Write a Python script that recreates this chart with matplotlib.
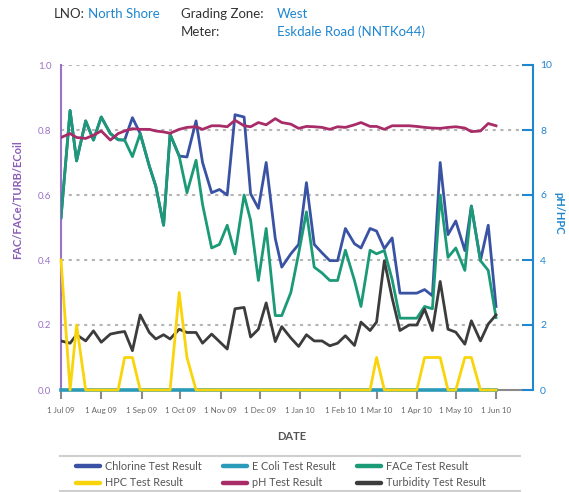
import pandas as pd
import matplotlib
matplotlib.use('Agg')
import matplotlib.pyplot as plt
import matplotlib.dates as mdates
from matplotlib.lines import Line2D

plt.rcParams['font.family'] = ['Lato', 'DejaVu Sans']

# sample dates (roughly weekly)
dates = ['2009-07-01', '2009-07-08', '2009-07-13', '2009-07-20', '2009-07-26', '2009-08-01',
         '2009-08-08', '2009-08-14', '2009-08-19', '2009-08-25', '2009-08-31', '2009-09-07',
         '2009-09-12', '2009-09-18', '2009-09-23', '2009-09-30', '2009-10-06', '2009-10-13',
         '2009-10-18', '2009-10-25', '2009-10-31', '2009-11-06', '2009-11-12', '2009-11-19',
         '2009-11-24', '2009-11-30', '2009-12-06', '2009-12-13', '2009-12-18', '2009-12-25',
         '2009-12-31', '2010-01-06', '2010-01-12', '2010-01-18', '2010-01-24', '2010-01-30',
         '2010-02-05', '2010-02-12', '2010-02-17', '2010-02-24', '2010-03-01', '2010-03-07',
         '2010-03-13', '2010-03-19', '2010-03-26', '2010-04-01', '2010-04-07', '2010-04-13',
         '2010-04-19', '2010-04-25', '2010-05-01', '2010-05-08', '2010-05-13', '2010-05-20',
         '2010-05-26', '2010-06-01']

chlorine = [0.53, 0.86, 0.705, 0.828, 0.769, 0.84, 0.789, 0.77, 0.769, 0.838,
            0.789, 0.689, 0.627, 0.507, 0.787, 0.72, 0.717, 0.828, 0.70, 0.607,
            0.617, 0.60, 0.847, 0.84, 0.604, 0.559, 0.70, 0.466, 0.378, 0.419,
            0.448, 0.638, 0.448, 0.422, 0.398, 0.398, 0.497, 0.45, 0.437, 0.497,
            0.489, 0.435, 0.468, 0.298, 0.298, 0.298, 0.309, 0.29, 0.70, 0.478,
            0.52, 0.429, 0.566, 0.398, 0.507, 0.257]

ecoli = [0, 0, 0, 0, 0, 0, 0, 0, 0, 0, 0, 0, 0, 0, 0, 0, 0, 0, 0, 0,
         0, 0, 0, 0, 0, 0, 0, 0, 0, 0, 0, 0, 0, 0, 0, 0, 0, 0, 0, 0,
         0, 0, 0, 0, 0, 0, 0, 0, 0, 0, 0, 0, 0, 0, 0, 0]

face = [0.53, 0.86, 0.705, 0.828, 0.769, 0.84, 0.789, 0.77, 0.769, 0.718,
        0.789, 0.689, 0.627, 0.507, 0.787, 0.72, 0.607, 0.707, 0.571, 0.437,
        0.448, 0.507, 0.419, 0.60, 0.522, 0.337, 0.497, 0.229, 0.229, 0.30,
        0.42, 0.548, 0.378, 0.36, 0.337, 0.337, 0.43, 0.337, 0.257, 0.43,
        0.419, 0.429, 0.34, 0.221, 0.221, 0.221, 0.257, 0.25, 0.60, 0.408,
        0.437, 0.368, 0.566, 0.398, 0.368, 0.223]

hpc = [4, 0, 2, 0, 0, 0, 0, 0, 1, 1, 0, 0, 0, 0, 0, 3, 1, 0, 0, 0,
       0, 0, 0, 0, 0, 0, 0, 0, 0, 0, 0, 0, 0, 0, 0, 0, 0, 0, 0, 0,
       1, 0, 0, 0, 0, 0, 1, 1, 1, 0, 0, 1, 1, 0, 0, 0]

ph = [7.77, 7.89, 7.77, 7.74, 7.84, 7.97, 7.69, 7.89, 7.97, 8.04,
      8.02, 8.02, 7.97, 7.94, 7.90, 8.02, 8.08, 8.10, 8.02, 8.13,
      8.13, 8.10, 8.30, 8.13, 8.10, 8.23, 8.16, 8.35, 8.23, 8.18,
      8.05, 8.11, 8.10, 8.08, 8.02, 8.10, 8.08, 8.16, 8.23, 8.11,
      8.11, 8.02, 8.13, 8.13, 8.13, 8.11, 8.08, 8.06, 8.05, 8.08,
      8.10, 8.06, 7.95, 7.97, 8.20, 8.13]

turbidity = [0.151, 0.144, 0.170, 0.151, 0.182, 0.147, 0.172, 0.177, 0.180, 0.121,
             0.231, 0.177, 0.157, 0.170, 0.157, 0.187, 0.177, 0.177, 0.144, 0.172,
             0.149, 0.126, 0.25, 0.254, 0.163, 0.187, 0.268, 0.149, 0.195, 0.16,
             0.134, 0.17, 0.151, 0.151, 0.136, 0.144, 0.167, 0.137, 0.209, 0.183,
             0.209, 0.398, 0.283, 0.183, 0.20, 0.20, 0.249, 0.183, 0.334, 0.187,
             0.178, 0.141, 0.213, 0.151, 0.203, 0.231]

left_ticks = [0.0, 0.2, 0.4, 0.6, 0.8, 1.0]
right_ticks = [0, 2, 4, 6, 8, 10]

x = pd.to_datetime(dates)

c_chl = '#3a52a3'
c_eco = '#2a9bb8'
c_fac = '#1b9a77'
c_hpc = '#fad40a'
c_ph = '#a72c68'
c_tur = '#3c3c3c'
purple = '#9a72c6'
blue = '#1f86d0'
grey = '#555555'

fig = plt.figure(figsize=(5.69, 4.92), dpi=100)
ax = fig.add_axes([61 / 569, 1 - 390 / 492, 461 / 569, 325 / 492])
ax2 = ax.twinx()

lw = 2.0
ax.plot(x, ecoli, color=c_eco, lw=2.6, clip_on=False, zorder=3)
ax.plot(x, chlorine, color=c_chl, lw=lw, zorder=4)
ax.plot(x, face, color=c_fac, lw=lw, zorder=5)
ax.plot(x, turbidity, color=c_tur, lw=lw, zorder=6)
ax2.plot(x, hpc, color=c_hpc, lw=lw, clip_on=False, zorder=3)
ax2.plot(x, ph, color=c_ph, lw=lw, zorder=4)

ax.set_ylim(0, 1.0)
ax2.set_ylim(0, 10)
ax.set_xlim(pd.Timestamp('2009-07-01'), pd.Timestamp('2010-06-21'))

# dotted grid
for v in left_ticks[1:]:
    ax.axhline(v, color='#b5b5b5', lw=1.5, dashes=(1.5, 2.2), zorder=1)

ax.set_yticks(left_ticks)
ax.set_yticklabels(['%.1f' % v for v in left_ticks])
ax.tick_params(axis='y', length=0, pad=7, labelsize=7, labelcolor=purple)
ax2.set_yticks(right_ticks)
ax2.tick_params(axis='y', direction='in', length=8, width=1.5, color=blue,
                pad=5, labelsize=7.5, labelcolor=blue)

ax.xaxis.set_major_locator(mdates.MonthLocator(bymonthday=1))
ax.xaxis.set_major_formatter(mdates.DateFormatter('1 %b %y'))
ax.tick_params(axis='x', direction='out', length=6.5, width=1.5, color='#8a8a8a',
               pad=6, labelsize=5.8, labelcolor='#666666')

for a in (ax, ax2):
    a.spines['top'].set_visible(False)
ax.spines['right'].set_visible(False)
ax2.spines['left'].set_visible(False)
ax2.spines['bottom'].set_visible(False)
ax.spines['left'].set_color(purple)
ax.spines['left'].set_linewidth(1.5)
ax.spines['bottom'].set_color('#8a8a8a')
ax.spines['bottom'].set_linewidth(1.5)
ax2.spines['right'].set_color(blue)
ax2.spines['right'].set_linewidth(1.5)
ax2.spines['right'].set_position(('outward', 8))

fig.text(18 / 569, 1 - 200 / 492, 'FAC/FACe/TURB/ECoil', rotation=90, ha='center', va='center',
         color='#8a5cb8', fontsize=8, fontweight='bold')
fig.text(559 / 569, 1 - 213 / 492, 'pH/HPC', rotation=270, ha='center', va='center',
         color=blue, fontsize=8, fontweight='bold')
fig.text(292 / 569, 1 - 436 / 492, 'DATE', ha='center', va='center',
         color=grey, fontsize=8, fontweight='bold')

# header
hdr = dict(fontsize=9.5, va='center', ha='left')
fig.text(54 / 569, 1 - 14 / 492, 'LNO:', color='#333333', **hdr)
fig.text(88 / 569, 1 - 14 / 492, 'North Shore', color=blue, **hdr)
fig.text(181 / 569, 1 - 14 / 492, 'Grading Zone:', color='#333333', **hdr)
fig.text(277 / 569, 1 - 14 / 492, 'West', color=blue, **hdr)
fig.text(181 / 569, 1 - 32 / 492, 'Meter:', color='#333333', **hdr)
fig.text(277 / 569, 1 - 32 / 492, 'Eskdale Road (NNTKo44)', color=blue, **hdr)

# legend
def h(c):
    return Line2D([], [], color=c, lw=3.2, solid_capstyle='round')

handles = [h(c_chl), h(c_hpc), h(c_eco), h(c_ph), h(c_fac), h(c_tur)]
labels = ['Chlorine Test Result', 'HPC Test Result', 'E Coli Test Result',
          'pH Test Result', 'FACe Test Result', 'Turbidity Test Result']
fig.legend(handles, labels, ncol=3, loc='center left', bbox_to_anchor=(76 / 569, 1 - 474.7 / 492),
           frameon=False, fontsize=7.8, handlelength=2.2, handletextpad=0.45,
           columnspacing=2.0, labelspacing=0.5, borderpad=0, borderaxespad=0,
           labelcolor='#555555')
for yy in (455.7, 490.7):
    fig.add_artist(Line2D([60 / 569, 520 / 569], [1 - yy / 492, 1 - yy / 492],
                          color='#cfcfcf', lw=1.5))

fig.savefig('out.png', dpi=100)
